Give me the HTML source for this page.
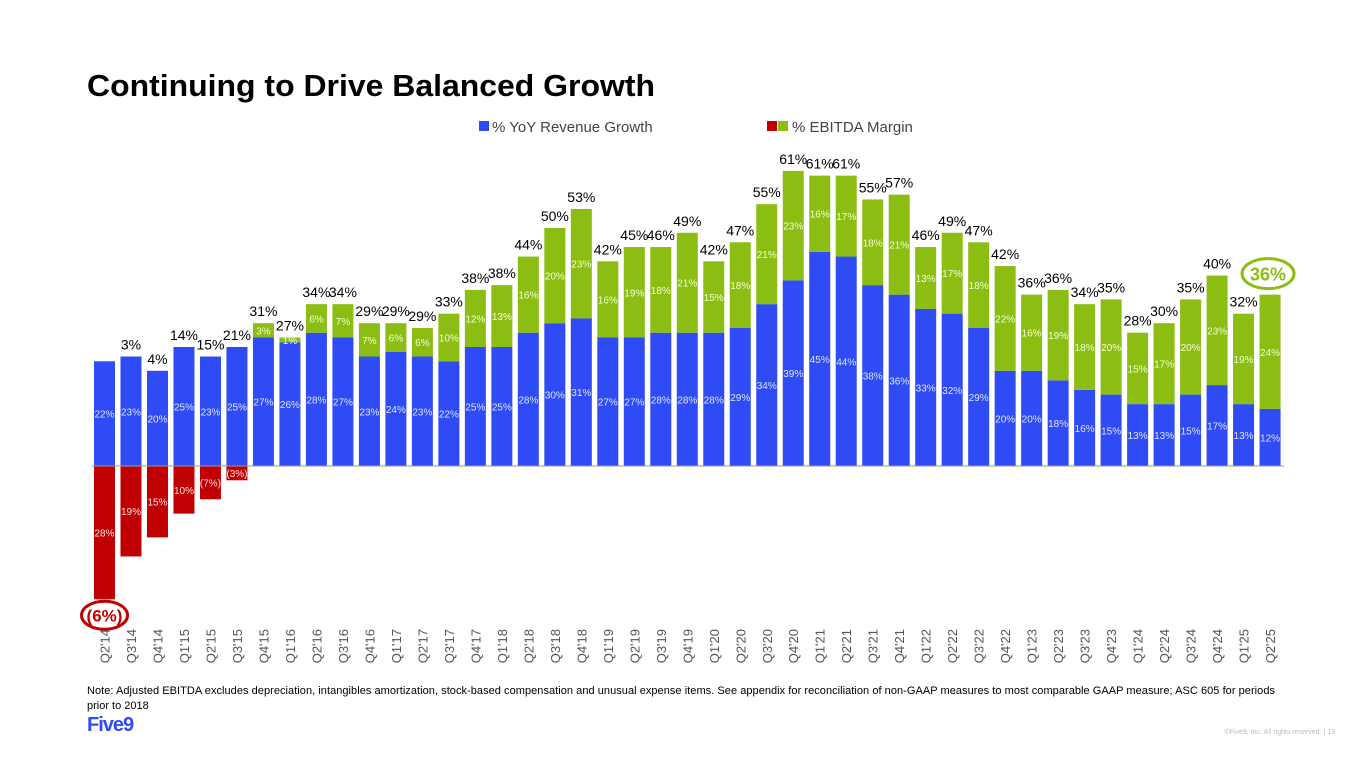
<!DOCTYPE html>
<html><head><meta charset="utf-8">
<style>
html,body{margin:0;padding:0;background:#fff;}
svg{display:block;font-family:"Liberation Sans",sans-serif;}
</style></head>
<body>
<svg id="chart" width="1365" height="768" viewBox="0 0 1365 768">
  <text x="87" y="96" font-size="31" font-weight="bold" fill="#000" textLength="568" lengthAdjust="spacingAndGlyphs">Continuing to Drive Balanced Growth</text>
  <g>
    <rect x="479" y="121" width="10" height="10" fill="#2e4bf5"/>
    <text x="492" y="132" font-size="15" fill="#444">% YoY Revenue Growth</text>
    <rect x="767" y="121" width="10" height="10" fill="#c00000"/>
    <rect x="778" y="121" width="10" height="10" fill="#8cbd12"/>
    <text x="792" y="132" font-size="15" fill="#444">% EBITDA Margin</text>
  </g>
  <g id="bars"></g>
  <text x="87" y="694" font-size="11" fill="#000" textLength="1188">Note: Adjusted EBITDA excludes depreciation, intangibles amortization, stock-based compensation and unusual expense items. See appendix for reconciliation of non-GAAP measures to most comparable GAAP measure; ASC 605 for periods</text>
  <text x="87" y="709" font-size="11" fill="#000">prior to 2018</text>
  <text x="87" y="731" font-size="20" font-weight="bold" fill="#2e4bf5" letter-spacing="-1">Five9</text>
  <text x="1335" y="734" font-size="7" fill="#bbb" text-anchor="end">©Five9, Inc. All rights reserved. | 13</text>
</svg>
<script>
const quarters=["Q2'14","Q3'14","Q4'14","Q1'15","Q2'15","Q3'15","Q4'15","Q1'16","Q2'16","Q3'16","Q4'16","Q1'17","Q2'17","Q3'17","Q4'17","Q1'18","Q2'18","Q3'18","Q4'18","Q1'19","Q2'19","Q3'19","Q4'19","Q1'20","Q2'20","Q3'20","Q4'20","Q1'21","Q2'21","Q3'21","Q4'21","Q1'22","Q2'22","Q3'22","Q4'22","Q1'23","Q2'23","Q3'23","Q4'23","Q1'24","Q2'24","Q3'24","Q4'24","Q1'25","Q2'25"];
const growth=[22,23,20,25,23,25,27,26,28,27,23,24,23,22,25,25,28,30,31,27,27,28,28,28,29,34,39,45,44,38,36,33,32,29,20,20,18,16,15,13,13,15,17,13,12];
const ebitda=[-28,-19,-15,-10,-7,-3,3,1,6,7,7,6,6,10,12,13,16,20,23,16,19,18,21,15,18,21,23,16,17,18,21,13,17,18,22,16,19,18,20,15,17,20,23,19,24];
const ebitdaLabels=["28%","19%","15%","10%","(7%)","(3%)"];
const totals=["(6%)","3%","4%","14%","15%","21%","31%","27%","34%","34%","29%","29%","29%","33%","38%","38%","44%","50%","53%","42%","45%","46%","49%","42%","47%","55%","61%","61%","61%","55%","57%","46%","49%","47%","42%","36%","36%","34%","35%","28%","30%","35%","40%","32%","36%"];

const NS="http://www.w3.org/2000/svg";
const g=document.getElementById('bars');
const zeroY=466, pxPer=4.76, x0=104.5, pitch=26.49, bw=21;
const xc=i=>x0+i*pitch;
const yv=v=>zeroY-v*pxPer;
function mk(tag,attrs){const e=document.createElementNS(NS,tag);for(const k in attrs)e.setAttribute(k,attrs[k]);g.appendChild(e);return e;}
function txt(x,y,s,size,fill,extra){const t=mk('text',Object.assign({x:x,y:y,'font-size':size,fill:fill,'text-anchor':'middle'},extra||{}));t.textContent=s;return t;}

quarters.forEach((q,i)=>{
  const cx=xc(i), gv=growth[i], ev=ebitda[i];
  const b=mk('rect',{x:cx-bw/2,y:yv(gv),width:bw,height:gv*pxPer,fill:'#2e4bf5'});
  
  
  const gl=txt(cx,yv(gv/2)+4,gv+'%',10,'#dfe4ff');
  
  
  let topY;
  if(ev>=0){
    const e=mk('rect',{x:cx-bw/2,y:yv(gv+ev),width:bw,height:ev*pxPer,fill:'#8cbd12'});
    
    
    const el=txt(cx,yv(gv+ev/2)+4,ev+'%',10,'#f4ffd8');
    
    
    topY=yv(gv+ev);
  } else {
    const e=mk('rect',{x:cx-bw/2,y:zeroY,width:bw,height:-ev*pxPer,fill:'#c00000'});
    
    
    const el=txt(cx,yv(ev/2)+4,ebitdaLabels[i]||(-ev+'%'),10,'#ffe0e0');
    
    
    topY=yv(gv);
  }
  if(i===0){
    const ell=mk('ellipse',{cx:cx,cy:yv(ev)+16,rx:23,ry:14,fill:'#fff',stroke:'#c00000','stroke-width':3});
    
    
    const t=txt(cx,yv(ev)+22,totals[i],17,'#c00000',{'font-weight':'bold'});
    
    
  } else if(i===quarters.length-1){
    const ell=mk('ellipse',{cx:cx-2,cy:topY-21,rx:26,ry:15,fill:'#fff',stroke:'#8cbd12','stroke-width':3});
    
    
    const t=txt(cx-2,topY-14,totals[i],18,'#8cbd12',{'font-weight':'bold'});
    
    
  } else {
    const t=txt(cx,topY-7,totals[i],14,'#000');
    
    
  }
  const xl=mk('text',{x:0,y:0,'font-size':13,fill:'#555','text-anchor':'end',transform:'translate('+(cx+5)+',629) rotate(-90)'});
  xl.textContent=q;
  
  
});
const ax=mk('line',{x1:92,x2:1284,y1:zeroY,y2:zeroY,stroke:'#999','stroke-width':1});


</script>
</body></html>
